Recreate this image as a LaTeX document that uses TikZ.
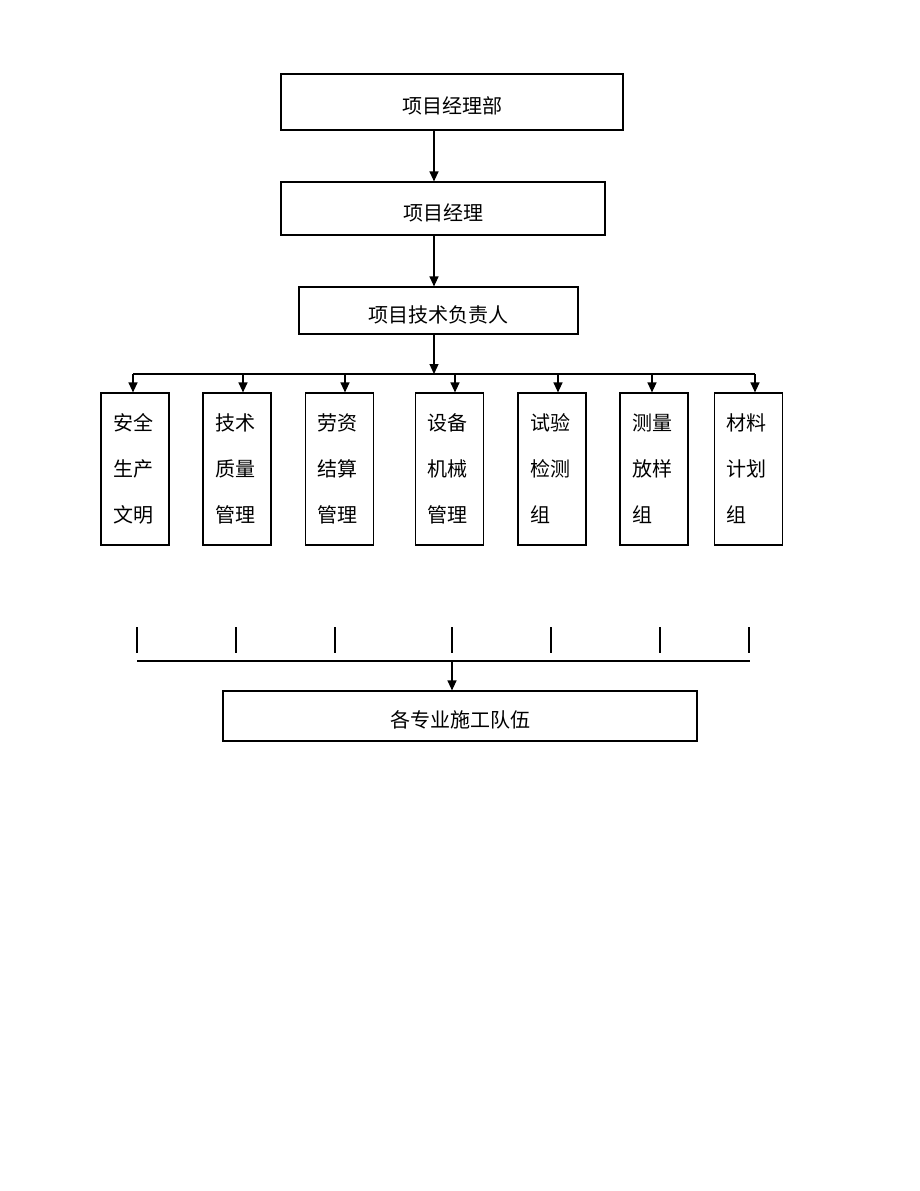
\documentclass[tikz,border=0pt]{standalone}
\usepackage{fontspec}
\newfontfamily\cjk{Noto Sans CJK SC}
\usetikzlibrary{arrows.meta}
\tikzset{
    frame/.style={draw, line width=0.6pt, inner sep=0pt},
    box/.style={frame, font=\cjk\fontsize{10pt}{12pt}\selectfont, text height=11.6pt, text depth=0pt},
    dept/.style={frame, minimum width=34pt, minimum height=76pt, text width=22pt, align=left, font=\cjk\fontsize{10pt}{23pt}\selectfont},
}
\begin{document}
\begin{tikzpicture}[x=0.5pt, y=-0.5pt, >={Triangle[length=5pt,width=4.5pt]}, line width=0.6pt]
\useasboundingbox (0,0) rectangle (920,1191);
\node[box, minimum width=171pt, minimum height=28pt](top) at (452,102){项目经理部};
\node[box, minimum width=162pt, minimum height=26.5pt](pm) at (443,208.5){项目经理};
\node[box, minimum width=139.5pt, minimum height=23.5pt](tech) at (438.5,310.5){项目技术负责人};
\node[box, minimum width=237pt, minimum height=25pt](teams) at (460,716){各专业施工队伍};

\draw[->](top.south -| 434,0)--(pm.north -| 434,0);
\draw[->](pm.south -| 434,0)--(tech.north -| 434,0);

% departments
\foreach \n/\x/\t in {1/135/{安全\\生产\\文明},2/237/{技术\\质量\\管理},3/339.5/{劳资\\结算\\管理},4/449.5/{设备\\机械\\管理},5/552/{试验\\检测\\组},6/654/{测量\\放样\\组},7/748.5/{材料\\计划\\组}}
{
    \node[dept](s\n) at (\x,469){\t};
}
\coordinate (bus) at (434,374);
\draw[->](tech.south -| bus)--(bus);
\draw(bus -| 133,0)--(bus -| 755,0);
\foreach \n/\x in {1/133,2/243,3/345,4/455,5/558,6/652,7/755}
{
    \draw[->](bus -| \x,0)--(s\n.north -| \x,0);
}

% lower bus
\foreach \x in {137,236,335,452,551,660,749}
{
    \draw(\x,627)--(\x,653);
}
\coordinate (join) at (452,661);
\draw(join -| 137,0)--(join -| 750,0);
\draw[->](join)--(teams.north -| join);
\end{tikzpicture}
\end{document}
